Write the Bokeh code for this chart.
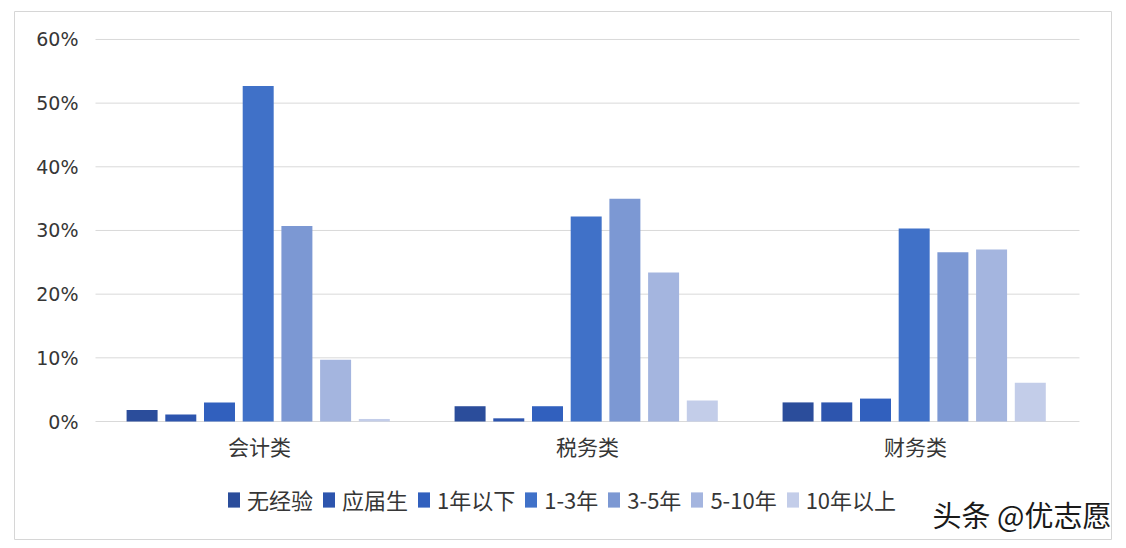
from bokeh.plotting import figure
from bokeh.models import (ColumnDataSource, Range1d, FixedTicker,
                          NumeralTickFormatter, Legend, LegendItem, Label)
from bokeh.transform import dodge
from bokeh.embed import file_html
from bokeh.resources import INLINE

categories = ["会计类", "税务类", "财务类"]
series_names = ["无经验", "应届生", "1年以下", "1-3年", "3-5年", "5-10年", "10年以上"]
no_exp = [0.018, 0.024, 0.030]
graduate = [0.011, 0.005, 0.030]
under_1y = [0.030, 0.024, 0.036]
y1_3 = [0.527, 0.322, 0.303]
y3_5 = [0.307, 0.350, 0.266]
y5_10 = [0.097, 0.234, 0.270]
over_10y = [0.004, 0.033, 0.061]
y_ticks = [0, 0.1, 0.2, 0.3, 0.4, 0.5, 0.6]
source_note = "头条 @优志愿"

series_values = [no_exp, graduate, under_1y, y1_3, y3_5, y5_10, over_10y]
colors = ["#2B4D9B", "#2D55AE", "#3160BE", "#4071C8", "#7C98D3", "#A4B5DF", "#C3CDE9"]

CJK = "Noto Sans CJK SC"

# category slots: category i occupies [i, i+1] on the x scale
cat_pos = [i + 0.5 for i in range(len(categories))]
data = {"pos": cat_pos, "cat": categories}
keys = []
for i, vals in enumerate(series_values):
    k = f"s{i}"
    keys.append(k)
    data[k] = vals
source = ColumnDataSource(data)

p = figure(x_range=Range1d(-0.247, 3.0976),
           y_range=Range1d(-0.1853, 0.6439),
           width=1120, height=544,
           min_border_left=14, min_border_right=9,
           min_border_top=11, min_border_bottom=5,
           output_backend="svg", toolbar_location=None)
p.outline_line_color = "#D6D6D6"
p.outline_line_width = 1
p.background_fill_color = "white"
p.border_fill_color = "white"
p.xgrid.visible = False
p.ygrid.visible = False

# horizontal gridlines across the three category slots
p.segment(x0=0, x1=len(categories), y0=y_ticks, y1=y_ticks,
          line_color="#D9D9D9", line_width=1)

slot = 0.118
bar_w = 0.0945
renderers = []
for i, k in enumerate(keys):
    r = p.vbar(x=dodge("pos", (i - 3) * slot - 0.004), top=k, width=bar_w,
               source=source, fill_color=colors[i], line_color=None)
    renderers.append(r)

# y axis
yax = p.yaxis[0]
yax.fixed_location = 0
yax.ticker = FixedTicker(ticks=y_ticks)
yax.formatter = NumeralTickFormatter(format="0%")
yax.axis_line_color = None
yax.major_tick_line_color = None
yax.minor_tick_line_color = None
yax.major_tick_out = 0
yax.major_tick_in = 0
yax.major_label_standoff = 17
yax.major_label_text_font = "DejaVu Sans"
yax.major_label_text_font_size = "19px"
yax.major_label_text_color = "#363636"

# x axis (categories)
xax = p.xaxis[0]
xax.fixed_location = 0
xax.ticker = FixedTicker(ticks=cat_pos)
xax.major_label_overrides = {pos: c for pos, c in zip(cat_pos, categories)}
xax.axis_line_color = None
xax.major_tick_line_color = None
xax.minor_tick_line_color = None
xax.major_tick_out = 0
xax.major_tick_in = 0
xax.major_label_standoff = 9
xax.major_label_text_font = CJK
xax.major_label_text_font_size = "21px"
xax.major_label_text_color = "#363636"

legend = Legend(items=[LegendItem(label=n, renderers=[r]) for n, r in zip(series_names, renderers)],
                orientation="horizontal", location=(212, 24),
                border_line_color=None, background_fill_alpha=0,
                padding=0, margin=0, spacing=8, label_standoff=6,
                glyph_width=15, glyph_height=19,
                label_text_font=CJK, label_text_font_size="22px",
                label_text_color="#363636")
p.add_layout(legend)

p.add_layout(Label(x=2.552, y=-0.1460, text=source_note, text_font=CJK,
                   text_font_size="29px", text_color="#1A1A1A",
                   text_baseline="middle", text_align="left"))

open("out.html", "w").write(file_html(p, INLINE))
